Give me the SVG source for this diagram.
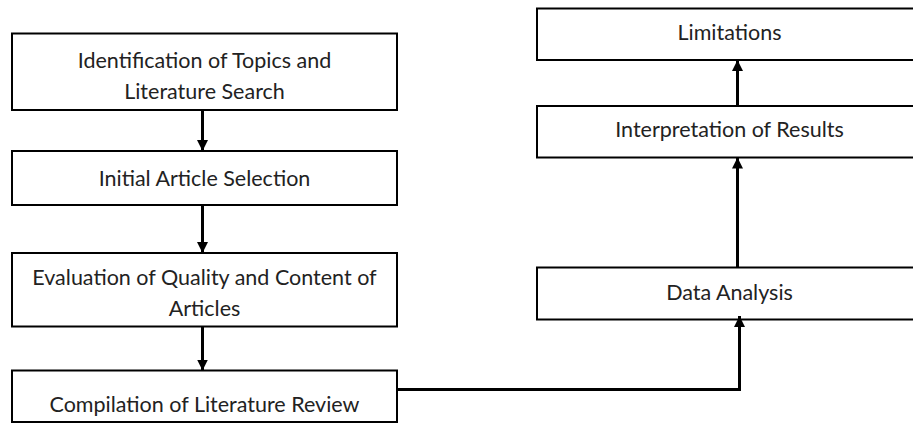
<svg xmlns="http://www.w3.org/2000/svg" width="913" height="423" viewBox="0 0 913 423">
<defs>
<style>
.box{fill:#fff;stroke:#000;stroke-width:2}
.lbl{font-family:Lato,"Liberation Sans",sans-serif;font-size:21.5px;fill:#222;text-anchor:middle}
.conn{fill:none;stroke:#000;stroke-width:3}
</style>
<marker id="ah" markerUnits="userSpaceOnUse" markerWidth="12" markerHeight="12" viewBox="0 0 12 12" refX="11" refY="6" orient="auto">
<path d="M0,0.5 L11,6 L0,11.5 Z" fill="#000"/>
</marker>
</defs>
<rect width="913" height="423" fill="#fff"/>
<g id="n1"><rect class="box" x="12" y="33.5" width="385" height="76.5"/>
<text class="lbl" x="204.5" y="67.5">Identification of Topics and</text>
<text class="lbl" x="204.5" y="99">Literature Search</text></g>
<g id="n2"><rect class="box" x="12" y="151" width="385" height="54"/>
<text class="lbl" x="204.5" y="185.5">Initial Article Selection</text></g>
<g id="n3"><rect class="box" x="12" y="253" width="385" height="73.5"/>
<text class="lbl" x="204.5" y="285">Evaluation of Quality and Content of</text>
<text class="lbl" x="204.5" y="316">Articles</text></g>
<g id="n4"><rect class="box" x="12" y="370.5" width="385" height="51.5"/>
<text class="lbl" x="204.5" y="411.5">Compilation of Literature Review</text></g>
<g id="n5"><rect class="box" x="537" y="8.5" width="385" height="51.5"/>
<text class="lbl" x="729.5" y="40">Limitations</text></g>
<g id="n6"><rect class="box" x="537" y="106" width="385" height="51.5"/>
<text class="lbl" x="729.5" y="136.5">Interpretation of Results</text></g>
<g id="n7"><rect class="box" x="537" y="267.5" width="385" height="52"/>
<text class="lbl" x="729.5" y="300">Data Analysis</text></g>
<g id="connectors">
<path class="conn" d="M202.5,110 V151" marker-end="url(#ah)"/>
<path class="conn" d="M202.5,205 V253" marker-end="url(#ah)"/>
<path class="conn" d="M202.5,326.5 V370.5" marker-end="url(#ah)"/>
<path class="conn" d="M397,389.5 H739.5 V316" marker-end="url(#ah)"/>
<path class="conn" d="M737.5,267.5 V157.5" marker-end="url(#ah)"/>
<path class="conn" d="M737.5,106 V60" marker-end="url(#ah)"/>
</g>
</svg>
